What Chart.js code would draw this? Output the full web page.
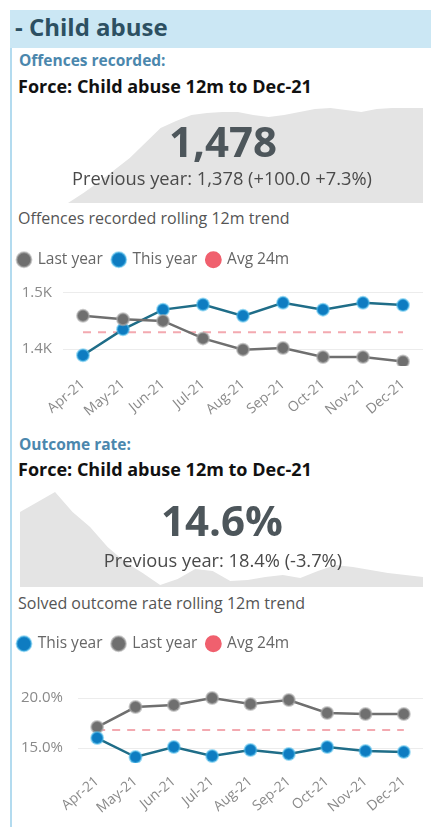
<!DOCTYPE html>
<html>
<head>
<meta charset="utf-8">
<script src="https://cdn.jsdelivr.net/npm/chart.js@4.4.1/dist/chart.umd.min.js"></script>
<style>
  html, body { margin: 0; padding: 0; background: #fff; }
  body { width: 431px; height: 827px; position: relative; overflow: hidden; font-family: "Open Sans", sans-serif; }
  .panel { position: absolute; left: 10px; top: 10px; width: 421px; height: 817px; border-left: 2px solid #b3dbef; }
  .band { position: absolute; left: 10px; top: 10px; width: 421px; height: 38px; background: #cbe7f4; }
  .abs { position: absolute; white-space: nowrap; line-height: 1; }
  .box { position: absolute; }
</style>
</head>
<body>
<div class="panel"></div>
<div class="band"></div>
<div class="abs" style="left:15px; top:15px; font-size:24px; font-weight:700; color:#2d5062;">- Child abuse</div>

<div class="abs" style="left:19px; top:53px; font-size:15.5px; font-weight:700; color:#4b87ad;">Offences recorded:</div>
<div class="abs" style="left:18px; top:77px; font-size:18px; font-weight:700; color:#111;">Force: Child abuse 12m to Dec-21</div>
<div class="box" style="left:68px; top:100px; width:355px; height:103px;"><canvas id="spark1"></canvas></div>
<div class="abs" style="left:0; width:446px; text-align:center; top:120px; font-size:42px; font-weight:700; color:#4d565b;">1,478</div>
<div class="abs" style="left:0; width:444px; text-align:center; top:169px; font-size:18.3px; color:#4a4a4a;">Previous year: 1,378 (+100.0 +7.3%)</div>
<div class="abs" style="left:18px; top:210px; font-size:16px; color:#555;">Offences recorded rolling 12m trend</div>
<div class="box" style="left:8px; top:242px; width:423px; height:182px;"><canvas id="trend1"></canvas></div>

<div class="abs" style="left:19px; top:437px; font-size:15.5px; font-weight:700; color:#4b87ad;">Outcome rate:</div>
<div class="abs" style="left:18px; top:460px; font-size:18px; font-weight:700; color:#111;">Force: Child abuse 12m to Dec-21</div>
<div class="box" style="left:20px; top:485px; width:403px; height:102px;"><canvas id="spark2"></canvas></div>
<div class="abs" style="left:0; width:444px; text-align:center; top:499px; font-size:42px; font-weight:700; color:#4d565b;">14.6%</div>
<div class="abs" style="left:0; width:446px; text-align:center; top:551px; font-size:18.3px; color:#4a4a4a;">Previous year: 18.4% (-3.7%)</div>
<div class="abs" style="left:18px; top:595px; font-size:16px; color:#555;">Solved outcome rate rolling 12m trend</div>
<div class="box" style="left:8px; top:626px; width:423px; height:195px;"><canvas id="trend2"></canvas></div>

<script>
const FONT = "'Open Sans', sans-serif";

const months = ["Apr-21", "May-21", "Jun-21", "Jul-21", "Aug-21", "Sep-21", "Oct-21", "Nov-21", "Dec-21"];

// offences recorded, rolling 12m
const offencesThisYear = [1389, 1435, 1470, 1479, 1459, 1482, 1470, 1482, 1478];
const offencesLastYear = [1459, 1453, 1450, 1419, 1399, 1402, 1386, 1386, 1378];
const offencesAvg24m = [1430, 1430, 1430, 1430, 1430, 1430, 1430, 1430, 1430];
const offencesTicks = [1400, 1500];

// solved outcome rate, rolling 12m (%)
const outcomeThisYear = [16.0, 14.1, 15.1, 14.2, 14.8, 14.4, 15.1, 14.7, 14.6];
const outcomeLastYear = [17.1, 19.1, 19.3, 20.0, 19.4, 19.8, 18.5, 18.4, 18.4];
const outcomeAvg24m = [16.8, 16.8, 16.8, 16.8, 16.8, 16.8, 16.8, 16.8, 16.8];
const outcomeTicks = [15, 20];

// background sparklines (relative heights)
const sparkOffences = [0, 10, 21, 33, 45, 60, 75, 82, 88, 90, 91, 91, 88, 86, 88, 91, 94, 95, 93, 91, 94, 95, 95, 95];
const sparkOutcome = [75, 85, 95, 75, 60, 40, 25, 14, 2, 8, 18, 16, 6, 7, 10, 12, 9, 16, 22, 20, 17, 14, 12, 10];

const BLUE = "#0e7cc1";
const BLUE_LINE = "#1f6d88";
const GREY = "#6f6f6f";
const PINK = "#f0606e";

function sparkline(id, values, max) {
  new Chart(document.getElementById(id), {
    type: "line",
    data: {
      labels: values.map((v, i) => i),
      datasets: [{ data: values, fill: "origin", backgroundColor: "#e4e4e4", borderWidth: 0, pointRadius: 0, tension: 0 }],
    },
    options: {
      responsive: true,
      maintainAspectRatio: false,
      animation: false,
      events: [],
      layout: { padding: 0 },
      plugins: { legend: { display: false }, tooltip: { enabled: false } },
      scales: {
        x: { display: false },
        y: { display: false, min: 0, max },
      },
    },
  });
}

function thisYearSet(values) {
  return {
    label: "This year",
    data: values,
    borderColor: BLUE_LINE,
    borderWidth: 2.5,
    backgroundColor: BLUE,
    pointBackgroundColor: BLUE,
    pointBorderColor: "rgba(80, 190, 235, 0.55)",
    pointBorderWidth: 2,
    pointRadius: 6,
    tension: 0,
  };
}

function lastYearSet(values) {
  return {
    label: "Last year",
    data: values,
    borderColor: GREY,
    borderWidth: 2.5,
    backgroundColor: GREY,
    pointBackgroundColor: GREY,
    pointBorderColor: "rgba(170, 170, 170, 0.6)",
    pointBorderWidth: 2,
    pointRadius: 6,
    tension: 0,
  };
}

function avgSet(values) {
  return {
    label: "Avg 24m",
    data: values,
    borderColor: "#f3a9b0",
    borderWidth: 2,
    borderDash: [8, 7],
    backgroundColor: PINK,
    pointBackgroundColor: PINK,
    pointBorderColor: PINK,
    pointRadius: 0,
    pointHoverRadius: 0,
  };
}

function trend(id, datasets, ticks, min, max, yWidth, yPad, fmt) {
  return new Chart(document.getElementById(id), {
    type: "line",
    data: { labels: months, datasets },
    options: {
      responsive: true,
      maintainAspectRatio: false,
      animation: false,
      events: [],
      layout: { padding: { left: 0, right: 0, top: 0, bottom: 0 } },
      plugins: {
        tooltip: { enabled: false },
        legend: {
          position: "top",
          align: "start",
          labels: {
            usePointStyle: true,
            pointStyle: "circle",
            boxWidth: 12,
            boxHeight: 10.5,
            padding: 10,
            color: "#666",
            font: { family: FONT, size: 15.5 },
            sort: (a, b) => a.datasetIndex - b.datasetIndex,
          },
        },
      },
      scales: {
        x: {
          offset: true,
          grid: { display: false },
          border: { display: false },
          ticks: { color: "#8a8a8a", font: { family: FONT, size: 14 }, minRotation: 40, maxRotation: 40, padding: 2 },
          afterFit: (s) => { s.height = 58; },
        },
        y: {
          min,
          max,
          grid: { color: "#ececec", drawTicks: false },
          border: { display: false },
          afterBuildTicks: (s) => { s.ticks = ticks.map((v) => ({ value: v })); },
          afterFit: (s) => { s.width = yWidth; },
          ticks: { color: "#8a8a8a", font: { family: FONT, size: 15 }, padding: yPad, callback: fmt },
        },
      },
    },
  });
}

sparkline("spark1", sparkOffences, 103);
sparkline("spark2", sparkOutcome, 102);

trend(
  "trend1",
  [lastYearSet(offencesLastYear), thisYearSet(offencesThisYear), avgSet(offencesAvg24m)],
  offencesTicks, 1370, 1527, 55, 11,
  (v) => (v / 1000).toFixed(1) + "K"
);

trend(
  "trend2",
  [thisYearSet(outcomeThisYear), lastYearSet(outcomeLastYear), avgSet(outcomeAvg24m)],
  outcomeTicks, 13.5, 23.66, 70, 15,
  (v) => v.toFixed(1) + "%"
);
</script>
</body>
</html>
